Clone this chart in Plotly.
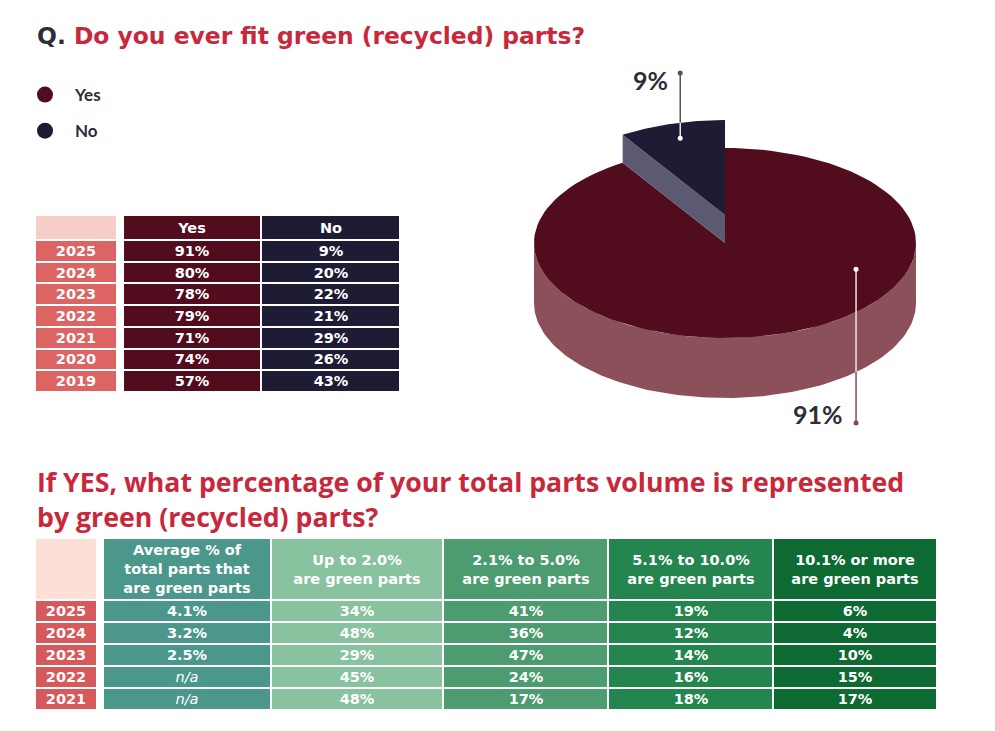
import numpy as np
import plotly.graph_objects as go

# ---------------- data ----------------
pie_labels = ["Yes", "No"]
pie_values = [91, 9]

years_top = ["2025", "2024", "2023", "2022", "2021", "2020", "2019"]
yes_pct = [91, 80, 78, 79, 71, 74, 57]
no_pct = [9, 20, 22, 21, 29, 26, 43]

years_bottom = ["2025", "2024", "2023", "2022", "2021"]
avg_green = ["4.1%", "3.2%", "2.5%", "n/a", "n/a"]
up_to_2 = [34, 48, 29, 45, 48]
from_2_to_5 = [41, 36, 47, 24, 17]
from_5_to_10 = [19, 12, 14, 16, 18]
over_10 = [6, 4, 10, 15, 17]
bottom_headers = [
    "Average % of<br>total parts that<br>are green parts",
    "Up to 2.0%<br>are green parts",
    "2.1% to 5.0%<br>are green parts",
    "5.1% to 10.0%<br>are green parts",
    "10.1% or more<br>are green parts",
]

# ---------------- style ----------------
W, H = 995, 731
RED = "#c8283b"
DARK = "#2d2d38"
MAROON = "#510c1e"
MAROON_SIDE = "#8b5059"
NAVY = "#1e1b35"
NAVY_SIDE = "#5c5a73"
FONT = "Lato"
TITLE_FONT = "DejaVu Sans"
SUB_FONT = "Open Sans"
TABLE_FONT = "DejaVu Sans"

fig = go.Figure()

# ---------------- pseudo-3D pie ----------------
CX, CY, RX, RY, DEPTH, LIFT = 725, 243, 191, 95, 60, 28


def pt(theta, r=1.0, dy=0.0):
    t = np.radians(theta)
    return CX + RX * r * np.sin(t), CY - RY * r * np.cos(t) + dy


def arc(t0, t1, dy=0.0, n=120):
    th = np.linspace(t0, t1, n)
    xs, ys = pt(th, 1.0, dy)
    return list(xs), list(ys)


total = sum(pie_values)
yes_span = 360.0 * pie_values[0] / total  # clockwise from 12 o'clock

# side wall (front half)
ax_, ay_ = arc(90, 270)
bx_, by_ = arc(270, 90, DEPTH)
fig.add_trace(go.Scatter(x=ax_ + bx_, y=ay_ + by_, fill="toself", mode="lines",
                         line=dict(width=0), fillcolor=MAROON_SIDE,
                         hoverinfo="skip", showlegend=False))
# Yes top face
tx, ty = arc(0, yes_span)
fig.add_trace(go.Scatter(x=[CX] + tx + [CX], y=[CY] + ty + [CY], fill="toself", mode="lines",
                         line=dict(width=0), fillcolor=MAROON,
                         hoverinfo="skip", showlegend=False))
# No slice: radial cut face
rx0, ry0 = pt(yes_span, 1.0, -LIFT)
rx1, ry1 = pt(yes_span, 1.0, 0)
fig.add_trace(go.Scatter(x=[CX, rx0, rx1, CX, CX], y=[CY - LIFT, ry0, ry1, CY, CY - LIFT],
                         fill="toself", mode="lines", line=dict(width=0),
                         fillcolor=NAVY_SIDE, hoverinfo="skip", showlegend=False))
# No top face (lifted)
nx, ny = arc(yes_span, 360, -LIFT)
fig.add_trace(go.Scatter(x=[CX] + nx + [CX], y=[CY - LIFT] + ny + [CY - LIFT], fill="toself",
                         mode="lines", line=dict(width=0), fillcolor=NAVY,
                         hoverinfo="skip", showlegend=False))

# leader lines
no_mid = yes_span + (360 - yes_span) / 2
nlx, nly = pt(no_mid, 0.84, -LIFT)
no_rim_y = CY - LIFT - RY * np.sqrt(1 - ((nlx - CX) / RX) ** 2)
no_top = 73
fig.add_trace(go.Scatter(x=[nlx, nlx], y=[no_top, no_rim_y], mode="lines",
                         line=dict(color="#55525f", width=1.5), hoverinfo="skip", showlegend=False))
fig.add_trace(go.Scatter(x=[nlx, nlx], y=[no_rim_y, nly], mode="lines",
                         line=dict(color="#e8e6ee", width=1.5), hoverinfo="skip", showlegend=False))
fig.add_trace(go.Scatter(x=[nlx, nlx], y=[no_top, nly], mode="markers",
                         marker=dict(size=5, color=["#55525f", "#ffffff"]),
                         hoverinfo="skip", showlegend=False))

YES_LABEL_ANGLE = 112
ylx, yly = pt(YES_LABEL_ANGLE, 0.74)
yes_bot_y = CY + RY * np.sqrt(1 - ((ylx - CX) / RX) ** 2) + DEPTH
yes_end = 423
fig.add_trace(go.Scatter(x=[ylx, ylx], y=[yly, yes_bot_y], mode="lines",
                         line=dict(color="#f3e3e6", width=1.5), hoverinfo="skip", showlegend=False))
fig.add_trace(go.Scatter(x=[ylx, ylx], y=[yes_bot_y, yes_end], mode="lines",
                         line=dict(color="#8b4656", width=1.5), hoverinfo="skip", showlegend=False))
fig.add_trace(go.Scatter(x=[ylx, ylx], y=[yly, yes_end], mode="markers",
                         marker=dict(size=5, color=["#ffffff", "#8b4656"]),
                         hoverinfo="skip", showlegend=False))

fig.add_annotation(x=nlx - 10, y=80, text=f"<b>{pie_values[1]}%</b>", showarrow=False,
                   xanchor="right", yanchor="middle", font=dict(family=FONT, size=25, color=DARK))
fig.add_annotation(x=ylx - 11, y=414, text=f"<b>{pie_values[0]}%</b>", showarrow=False,
                   xanchor="right", yanchor="middle", font=dict(family=FONT, size=25, color=DARK))

# legend entries
for lab, col in zip(pie_labels, [MAROON, NAVY]):
    fig.add_trace(go.Scatter(x=[None], y=[None], mode="markers", name=f"<b>{lab}</b>",
                             legendgroup=lab, marker=dict(size=16, color=col)))


# ---------------- tables as heatmaps ----------------
def colorscale(colors):
    n = len(colors)
    return [[i / (n - 1), c] for i, c in enumerate(colors)]


def edges(start, sizes):
    out = [start]
    for s in sizes:
        out.append(out[-1] + s)
    return out


# top table
top_colors = ["#f7cec7", "#dc6462", MAROON, NAVY]
top_x = edges(35, [82, 6, 138, 139])
top_y = edges(215, [25] + [21.7] * len(years_top))
z_top = [[0, None, 2, 3]] + [[1, None, 2, 3] for _ in years_top]
t_top = [["", "", "<b>Yes</b>", "<b>No</b>"]] + [
    [f"<b>{y}</b>", "", f"<b>{a}%</b>", f"<b>{b}%</b>"]
    for y, a, b in zip(years_top, yes_pct, no_pct)
]
fig.add_trace(go.Heatmap(x=top_x, y=top_y, z=z_top, text=t_top, texttemplate="%{text}",
                         textfont=dict(family=TABLE_FONT, size=14.5, color="white"),
                         colorscale=colorscale(top_colors), zmin=0, zmax=len(top_colors) - 1,
                         showscale=False, xgap=2, ygap=2, hoverinfo="skip"))

# bottom table
bot_colors = ["#fddfd8", "#d6595b", "#4c978b", "#88c29f", "#4d9c6f", "#24854e", "#0c6a32"]
bot_x = edges(35, [62, 6, 168, 172, 165, 165, 164])
bot_y = edges(538, [62] + [22] * len(years_bottom))
z_bot = [[0, None, 2, 3, 4, 5, 6]] + [[1, None, 2, 3, 4, 5, 6] for _ in years_bottom]


def fmt(v):
    return "<i>n/a</i>" if v == "n/a" else f"<b>{v}</b>"


t_bot = [["", ""] + [f"<b>{h}</b>" for h in bottom_headers]]
for i, y in enumerate(years_bottom):
    t_bot.append([f"<b>{y}</b>", "", fmt(avg_green[i]), fmt(f"{up_to_2[i]}%"),
                  fmt(f"{from_2_to_5[i]}%"), fmt(f"{from_5_to_10[i]}%"), fmt(f"{over_10[i]}%")])
fig.add_trace(go.Heatmap(x=bot_x, y=bot_y, z=z_bot, text=t_bot, texttemplate="%{text}",
                         textfont=dict(family=TABLE_FONT, size=14.5, color="white"),
                         colorscale=colorscale(bot_colors), zmin=0, zmax=len(bot_colors) - 1,
                         showscale=False, xgap=2, ygap=2, hoverinfo="skip"))

# ---------------- titles ----------------
fig.add_annotation(x=35, y=36, xanchor="left", yanchor="middle", showarrow=False,
                   text=f"<b><span style='color:{DARK}'>Q.</span> Do you ever fit green (recycled) parts?</b>",
                   font=dict(family=TITLE_FONT, size=23.4, color=RED))
fig.add_annotation(x=35, y=461, xanchor="left", yanchor="top", showarrow=False, align="left",
                   text="<b>If YES, what percentage of your total parts volume is represented<br>by green (recycled) parts?</b>",
                   font=dict(family=SUB_FONT, size=26.7, color=RED))

fig.update_layout(
    width=W, height=H, margin=dict(l=0, r=0, t=0, b=0),
    paper_bgcolor="white", plot_bgcolor="white",
    xaxis=dict(range=[0, W], visible=False, fixedrange=True),
    yaxis=dict(range=[H, 0], visible=False, fixedrange=True),
    showlegend=True,
    legend=dict(x=15 / W, y=1 - 77 / H, xanchor="left", yanchor="top", itemwidth=50,
                font=dict(family=FONT, size=17, color=DARK), tracegroupgap=11,
                bgcolor="rgba(0,0,0,0)"),
)

fig.write_html("out.html")
